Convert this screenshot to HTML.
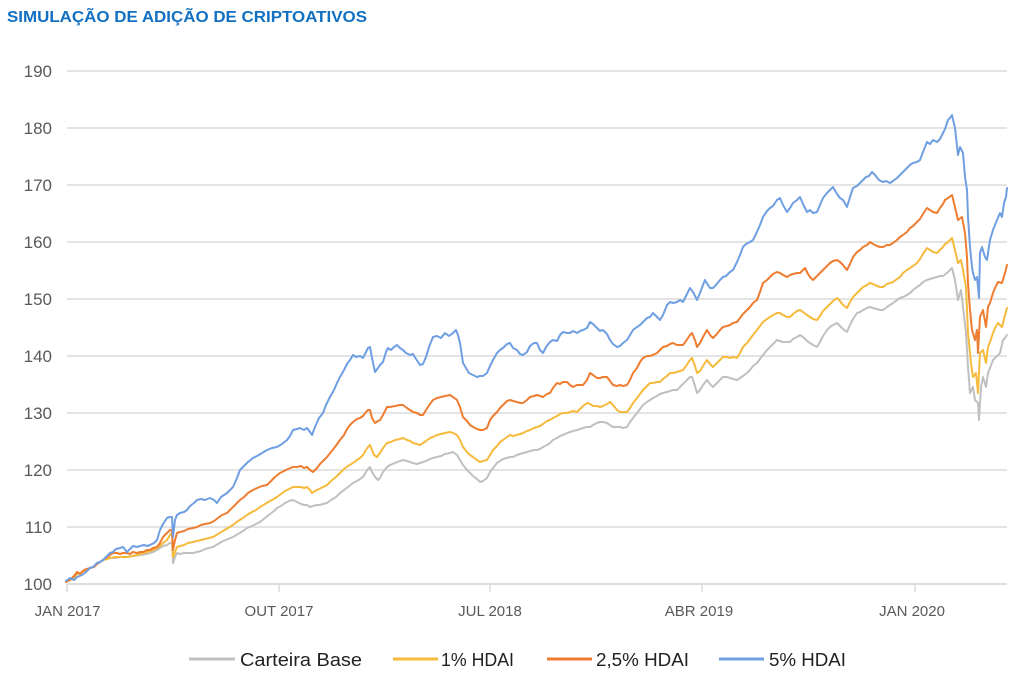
<!DOCTYPE html>
<html>
<head>
<meta charset="utf-8">
<style>
html,body{margin:0;padding:0;background:#fff;}
body{width:1024px;height:689px;overflow:hidden;}
svg{display:block;}
text{font-family:"Liberation Sans",sans-serif;}
</style>
</head>
<body>
<svg width="1024" height="689" viewBox="0 0 1024 689" xmlns="http://www.w3.org/2000/svg">
<rect width="1024" height="689" fill="#fff"/>
<text x="7" y="22" font-size="16" font-weight="bold" fill="#1170c2" textLength="360" lengthAdjust="spacingAndGlyphs">SIMULAÇÃO DE ADIÇÃO DE CRIPTOATIVOS</text>

<g stroke="#dcdcdc" stroke-width="1.6">
<line x1="67" y1="71" x2="1007" y2="71"/>
<line x1="67" y1="128" x2="1007" y2="128"/>
<line x1="67" y1="185" x2="1007" y2="185"/>
<line x1="67" y1="242" x2="1007" y2="242"/>
<line x1="67" y1="299" x2="1007" y2="299"/>
<line x1="67" y1="356" x2="1007" y2="356"/>
<line x1="67" y1="413" x2="1007" y2="413"/>
<line x1="67" y1="470" x2="1007" y2="470"/>
<line x1="67" y1="527" x2="1007" y2="527"/>
<line x1="67" y1="584" x2="1007" y2="584" stroke="#d4d4d4"/>
<line x1="67" y1="584" x2="67" y2="592"/>
<line x1="279" y1="584" x2="279" y2="592"/>
<line x1="490" y1="584" x2="490" y2="592"/>
<line x1="702" y1="584" x2="702" y2="592"/>
<line x1="915" y1="584" x2="915" y2="592"/>
</g>

<g font-size="17" fill="#595959" text-anchor="end">
<text x="52" y="77">190</text>
<text x="52" y="134">180</text>
<text x="52" y="191">170</text>
<text x="52" y="248">160</text>
<text x="52" y="305">150</text>
<text x="52" y="362">140</text>
<text x="52" y="419">130</text>
<text x="52" y="476">120</text>
<text x="52" y="533">110</text>
<text x="52" y="590">100</text>
</g>

<g font-size="15" fill="#595959" text-anchor="middle">
<text x="67.5" y="616">JAN 2017</text>
<text x="279" y="616">OUT 2017</text>
<text x="490" y="616">JUL 2018</text>
<text x="699" y="616">ABR 2019</text>
<text x="912" y="616">JAN 2020</text>
</g>

<g fill="none" stroke-width="2" stroke-linejoin="round" stroke-linecap="round">
<polyline stroke="#c0c0c0" points="66,582 70,580 74,577 77,574 80,573 84,571 90,568 93,567 97,564 100,562 103,560 107,559 110,558 115,558 120,557 127,557 133,556 140,555 147,554 153,552 157,550 160,548 163,546 167,545 170,543 172,543 173,563 175,557 177,553 180,554 184,553 188,553 193,553 197,552 201,551 205,549 209,548 213,547 218,544 223,541 228,539 233,537 238,534 243,531 247,528 252,526 256,524 260,522 265,518 270,514 274,511 277,508 281,506 285,503 289,501 293,500 297,502 301,504 304,505 307,505 310,507 313,506 317,505 320,505 323,504 327,503 331,500 336,497 340,493 344,490 348,487 353,483 357,481 360,479 363,477 366,472 368,469 370,467 372,472 375,477 378,480 380,478 383,472 387,467 390,465 395,463 400,461 403,460 407,461 410,462 413,463 417,464 420,463 423,462 426,461 430,459 433,458 437,457 441,456 445,454 450,453 453,452 457,455 460,460 463,465 467,470 470,473 473,476 477,479 480,482 483,481 487,478 490,472 493,468 497,463 500,461 503,459 507,458 510,457 513,457 517,455 520,454 523,453 527,452 530,451 534,450 537,450 540,449 543,447 547,445 550,443 553,440 557,438 560,436 563,435 567,433 570,432 573,431 577,430 580,429 583,428 587,427 590,427 593,425 597,423 600,422 603,422 607,423 610,425 613,427 617,427 620,427 623,428 627,427 630,422 633,418 637,413 640,409 643,405 647,402 650,400 653,398 657,396 660,394 663,393 667,392 670,391 673,390 677,390 680,387 683,384 687,380 690,377 692,377 695,386 697,393 700,390 703,385 707,380 710,384 713,387 716,384 720,380 723,377 727,377 730,378 733,379 737,380 740,378 743,376 747,373 750,370 753,366 757,363 760,359 763,355 767,350 770,347 773,344 777,340 780,341 783,342 787,342 790,342 793,339 797,337 800,335 803,337 807,341 810,343 813,345 817,347 820,342 823,336 827,330 830,327 833,325 837,323 840,326 843,329 847,332 850,325 853,319 857,313 860,312 863,310 867,308 870,307 873,308 877,309 880,310 883,310 887,307 890,305 893,303 897,300 900,298 903,297 907,295 910,293 913,290 917,287 920,285 923,282 927,280 930,279 933,278 937,277 940,276 943,276 947,273 950,270 952,268 955,280 958,300 961,290 963,307 966,333 968,367 970,393 973,387 975,400 978,403 979,420 981,387 983,377 986,387 988,373 990,368 993,360 997,356 1000,353 1003,340 1005,338 1007,335"/>
<polyline stroke="#f6ba3c" points="66,582 70,580 74,577 77,574 80,573 84,571 90,568 93,567 97,564 100,562 103,560 107,559 110,558 115,557 120,557 127,557 133,556 140,554 147,552 153,550 157,548 160,546 163,543 167,540 170,535 172,533 173,557 175,552 177,547 180,546 184,545 188,543 193,542 197,541 201,540 205,539 209,538 213,537 218,534 223,531 228,528 233,525 238,521 243,518 247,515 252,512 256,510 260,507 265,504 270,501 274,499 277,497 281,494 285,491 289,489 293,487 297,487 301,487 304,488 307,487 310,490 312,493 315,491 319,489 323,487 327,485 331,481 336,477 340,473 344,469 348,466 353,463 357,460 360,458 363,455 366,450 368,447 370,445 372,450 374,455 377,457 380,453 383,448 387,443 391,442 395,440 400,439 403,438 407,440 410,441 413,443 417,444 420,445 423,443 426,441 430,438 433,437 437,435 441,434 445,433 450,432 453,433 457,435 460,440 463,447 467,452 470,455 473,457 477,460 480,462 483,461 487,460 490,455 493,450 497,446 500,442 503,440 507,437 510,435 513,436 517,435 520,434 523,433 527,431 530,430 534,428 537,427 540,426 543,424 547,421 550,420 553,418 557,416 560,414 563,413 567,413 570,412 573,411 577,412 580,409 583,406 587,403 590,404 593,406 597,406 600,407 603,406 607,404 610,402 613,405 617,410 620,412 623,412 627,412 630,408 633,403 637,398 640,394 643,390 647,386 650,383 653,383 657,382 660,382 663,379 667,376 670,373 673,373 677,372 680,371 683,370 686,366 690,360 692,358 695,366 697,373 700,371 703,366 707,360 710,364 713,367 716,364 720,360 723,357 727,357 730,358 733,357 737,358 740,353 743,347 747,343 750,339 753,335 757,330 760,326 763,322 767,319 770,317 773,315 777,313 780,313 783,315 787,317 790,317 793,314 797,311 800,310 803,312 807,315 810,317 813,319 817,320 820,316 823,311 827,307 830,304 833,301 837,298 840,301 843,305 847,308 850,302 853,297 857,293 860,290 863,287 867,285 870,283 873,284 877,286 880,287 883,287 887,284 890,283 893,282 897,279 900,277 903,273 907,270 910,268 913,266 917,263 920,259 923,254 927,248 930,250 933,252 937,253 940,250 943,247 945,244 947,243 950,240 952,238 955,250 958,263 961,260 963,270 966,287 968,333 971,363 973,377 976,373 978,393 980,353 983,350 986,363 988,347 990,342 993,333 995,328 998,323 1002,327 1005,315 1007,308"/>
<polyline stroke="#ee7d31" points="66,582 70,580 74,576 77,572 80,574 84,570 90,568 94,567 97,564 100,562 103,560 107,557 110,555 113,553 117,553 120,554 123,553 127,553 130,554 133,552 137,553 140,552 143,552 147,550 150,550 153,548 157,547 160,543 163,537 167,533 170,530 172,530 173,550 175,540 177,533 180,532 184,531 188,529 193,528 197,527 201,525 205,524 210,523 214,521 218,518 222,515 227,513 231,509 235,505 240,500 244,497 248,493 253,490 257,488 262,486 267,485 271,481 275,477 280,473 284,471 288,469 293,467 297,467 301,466 304,468 307,467 310,470 313,472 317,468 320,464 324,460 327,457 331,452 335,447 340,440 344,435 347,429 350,425 353,422 357,419 360,418 363,416 366,412 368,410 370,410 372,418 375,423 378,421 380,420 383,415 387,407 390,407 395,406 400,405 403,405 407,408 410,410 413,412 417,413 420,415 423,415 426,410 430,404 433,400 437,398 441,397 445,396 450,395 453,397 457,400 460,407 463,417 467,421 470,425 473,427 477,429 480,430 483,430 487,428 490,420 493,416 497,412 500,408 503,405 507,401 510,400 513,401 517,402 520,403 523,403 527,400 530,397 534,396 537,395 540,396 543,397 547,394 550,393 553,388 557,383 560,384 563,382 567,382 570,385 573,387 577,385 580,385 583,385 587,380 590,373 593,375 597,378 600,378 603,377 607,377 610,381 613,385 617,386 620,385 623,386 627,385 630,380 633,373 637,368 640,362 643,358 647,356 650,356 653,355 657,353 660,350 663,347 667,346 670,344 673,343 677,345 680,345 683,345 686,341 690,335 692,333 695,340 697,347 700,343 703,337 707,330 710,335 713,338 716,335 720,330 723,327 727,326 730,325 733,323 737,322 740,318 743,314 747,310 750,307 753,303 757,300 760,292 763,283 767,280 770,277 773,274 777,272 780,273 783,275 787,277 790,275 793,274 797,273 800,273 803,270 805,268 808,274 810,277 813,280 817,276 820,273 823,270 827,266 830,263 833,261 837,260 840,262 843,265 847,270 850,264 853,257 857,252 860,250 863,247 867,245 870,242 873,244 877,246 880,247 883,247 887,245 890,245 893,243 897,240 900,237 903,235 907,232 910,228 913,226 917,222 920,219 923,214 927,208 930,210 933,212 937,213 940,208 943,204 945,200 948,198 952,195 955,207 958,220 962,217 965,233 967,257 968,283 970,310 972,330 975,340 977,330 978,353 980,317 983,310 986,327 988,307 990,303 993,293 995,288 998,282 1002,283 1005,273 1007,265"/>
<polyline stroke="#6f9fe2" points="66,581 70,578 74,580 77,577 82,575 86,572 90,568 93,567 97,563 100,562 103,560 107,556 110,553 113,552 116,549 120,548 123,547 127,552 130,549 133,546 137,547 140,546 144,545 147,546 150,545 154,543 157,540 160,530 163,524 167,518 170,517 172,517 173,537 175,520 177,515 180,513 184,512 187,510 190,506 194,503 197,500 201,499 205,500 210,498 214,500 217,503 221,497 224,495 227,493 230,490 233,487 237,478 240,470 244,466 248,462 253,458 257,456 262,453 267,450 272,448 277,447 282,444 287,440 290,436 293,430 297,429 300,428 304,430 307,428 310,432 312,435 315,427 319,418 323,413 326,405 330,397 334,390 337,383 340,377 344,370 347,364 350,360 353,355 356,357 360,356 363,358 366,352 368,348 370,347 372,358 375,372 378,368 380,365 383,362 386,352 388,348 391,350 394,347 397,345 400,348 403,350 406,353 410,355 413,354 416,359 420,365 423,364 426,357 429,347 433,337 437,336 441,338 445,333 449,336 453,333 456,330 458,335 460,343 463,363 466,368 469,373 473,375 477,377 480,376 483,376 487,373 490,366 493,360 497,353 500,350 503,348 507,344 510,343 513,348 517,350 520,354 523,355 527,352 530,346 534,343 537,343 540,350 543,353 546,347 550,342 553,340 557,341 560,335 563,332 567,333 570,333 573,331 577,333 580,331 583,330 587,328 590,322 593,324 597,328 600,331 603,330 607,334 610,340 613,344 617,347 620,346 623,343 627,340 630,335 633,330 637,327 640,325 643,322 647,318 650,317 653,313 657,317 660,320 663,315 667,305 670,302 673,303 677,302 680,300 683,302 686,296 690,288 693,292 697,300 700,293 703,285 705,280 708,285 710,288 713,288 716,285 720,280 723,277 726,276 730,272 733,270 737,262 740,255 743,247 746,244 750,242 753,240 756,234 760,225 763,217 767,211 770,208 773,206 777,200 780,198 783,205 787,212 790,208 793,203 797,200 800,197 803,204 807,212 810,210 813,213 817,212 820,205 823,198 827,193 830,190 833,187 837,194 840,198 843,200 847,207 850,197 853,188 857,186 860,183 863,180 866,177 869,176 872,172 875,175 879,180 883,182 886,181 890,183 893,181 897,178 900,175 903,172 907,168 910,165 913,163 917,162 920,160 923,152 927,142 930,144 933,140 937,142 940,139 943,133 945,129 948,120 950,118 952,115 955,128 958,155 960,147 963,153 965,177 967,190 968,217 970,247 972,267 973,273 975,280 977,277 979,298 980,253 982,247 985,257 987,260 990,240 993,230 995,225 997,220 1000,213 1002,217 1004,203 1006,197 1007,188"/>
</g>

<g stroke-width="3">
<line x1="189" y1="659" x2="235" y2="659" stroke="#c0c0c0"/>
<line x1="393" y1="659" x2="438" y2="659" stroke="#f6ba3c"/>
<line x1="547" y1="659" x2="592" y2="659" stroke="#ee7d31"/>
<line x1="719" y1="659" x2="764" y2="659" stroke="#6f9fe2"/>
</g>
<g font-size="18" fill="#222">
<text x="240" y="666" textLength="122" lengthAdjust="spacingAndGlyphs">Carteira Base</text>
<text x="441" y="666" textLength="73" lengthAdjust="spacingAndGlyphs">1% HDAI</text>
<text x="596" y="666" textLength="93" lengthAdjust="spacingAndGlyphs">2,5% HDAI</text>
<text x="769" y="666" textLength="77" lengthAdjust="spacingAndGlyphs">5% HDAI</text>
</g>
</svg>
</body>
</html>
